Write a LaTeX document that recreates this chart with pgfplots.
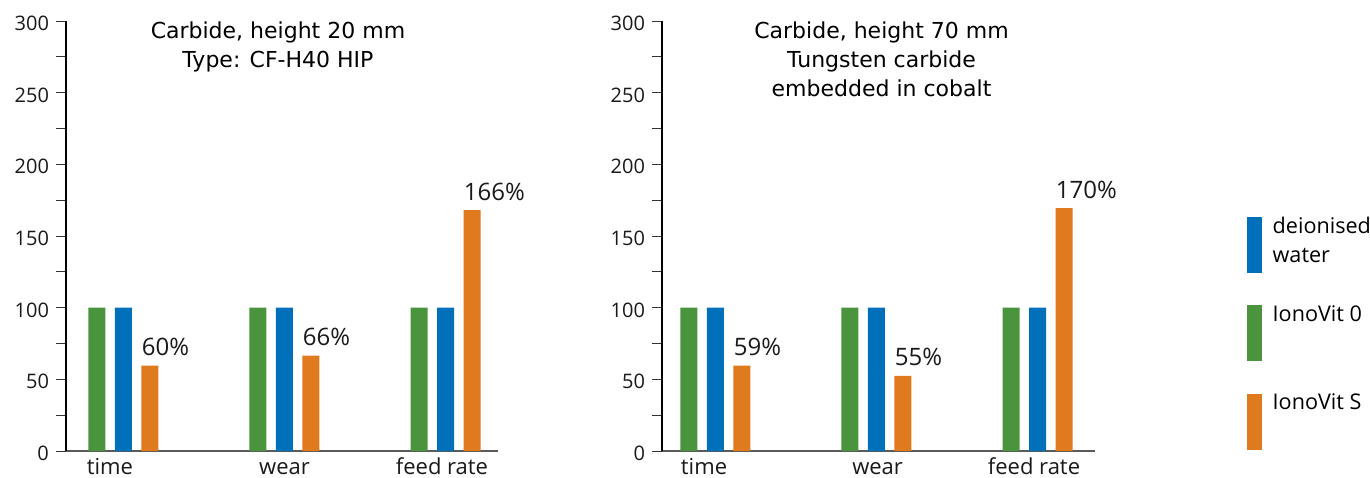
\documentclass[border=0pt]{standalone}
\usepackage{pgfplots}
\pgfplotsset{compat=1.18}
\usepackage{fontspec}
\setmainfont{Open Sans}
\newfontfamily\titlefont{DejaVu Sans}
\definecolor{cgreen}{RGB}{73,148,61}
\definecolor{cblue}{RGB}{0,112,187}
\definecolor{corange}{RGB}{224,122,31}
\definecolor{axgray}{RGB}{90,90,90}
\tikzset{ttl/.style={align=center, anchor=north, inner sep=0pt, yshift=-0.3pt,
    font=\titlefont\fontsize{11}{14.5}\selectfont}}
\pgfplotsset{
  panel/.style={
    scale only axis, height=215pt,
    ymin=0, ymax=300, ytick={0,50,...,300}, minor y tick num=1,
    axis lines=left, axis line style={-},
    x axis line style={axgray, line width=1pt},
    y axis line style={black, line width=0.9pt},
    tick align=outside, major tick length=5pt, minor tick length=5pt,
    ytick style={black!80, line width=0.5pt},
    minor y tick style={black!80, line width=0.5pt},
    xtick style={draw=none},
    /pgf/number format/assume math mode=true,
    tick label style={font=\fontsize{10}{12}\selectfont, text=black!90},
    yticklabel style={yshift=-1.2pt},
    xticklabel style={anchor=base, yshift=-6.5pt, inner sep=0pt, font=\fontsize{11}{13}\selectfont},
    xticklabels={time,wear,feed rate},
    clip=false,
  },
  gbar/.style={ybar, bar width=8.5pt, bar shift=-13.25pt, fill=cgreen, draw=none},
  bbar/.style={ybar, bar width=8.5pt, bar shift=0pt, fill=cblue, draw=none},
  obar/.style={ybar, bar width=8.5pt, bar shift=13.25pt, fill=corange, draw=none,
    point meta=explicit symbolic, nodes near coords,
    every node near coord/.append style={anchor=base west, xshift=9pt, yshift=5pt,
      inner sep=0pt, font=\fontsize{12}{14}\selectfont, text=black!90}},
}
\begin{document}
\begin{tikzpicture}
% left panel
\begin{axis}[panel, at={(33pt,13pt)}, anchor=south west, width=216pt,
  xmin=-0.357, xmax=2.326, xtick={-0.084,1,1.978}]
\addplot[gbar] coordinates {(0,100) (1,100) (2,100)};
\addplot[bbar] coordinates {(0,100) (1,100) (2,100)};
\addplot[obar] coordinates {(0,59.5) [60\%] (1,66.5) [66\%] (2,168) [166\%]};
\node[ttl] at (rel axis cs:0.4907,1) {Carbide, height 20 mm\\Type: CF-H40 HIP};
\end{axis}
% right panel
\begin{axis}[panel, at={(331pt,13pt)}, anchor=south west, width=216.5pt,
  xmin=-0.332, xmax=2.357, xtick={-0.071,1.007,1.978},
  legend style={at={(axis description cs:1.3503,0.5442)}, anchor=north west,
    draw=none, fill=none, inner sep=0pt, outer sep=0pt,
    row sep=16.25pt, column sep=5.5pt,
    nodes={inner sep=0pt, text depth=0pt, align=left, font=\fontsize{10.8}{14.5}\selectfont},
    cells={anchor=north west}},
  legend image code/.code={\fill[#1] (0pt,0pt) rectangle (7.5pt,-28pt);}]
\addplot[gbar, forget plot] coordinates {(0,100) (1,100) (2,100)};
\addplot[bbar, forget plot] coordinates {(0,100) (1,100) (2,100)};
\addplot[obar, forget plot] coordinates {(0,59.5) [59\%] (1,52.5) [55\%] (2,169.5) [170\%]};
\node[ttl] at (rel axis cs:0.507,1) {Carbide, height 70 mm\\Tungsten carbide\\embedded in cobalt};
\addlegendimage{fill=cblue, draw=none}
\addlegendentry{deionised\\water}
\addlegendimage{fill=cgreen, draw=none}
\addlegendentry{IonoVit 0}
\addlegendimage{fill=corange, draw=none}
\addlegendentry{IonoVit S}
\end{axis}
\pgfresetboundingbox
\useasboundingbox (0,0) rectangle (685pt,238.5pt);
\end{tikzpicture}
\end{document}
